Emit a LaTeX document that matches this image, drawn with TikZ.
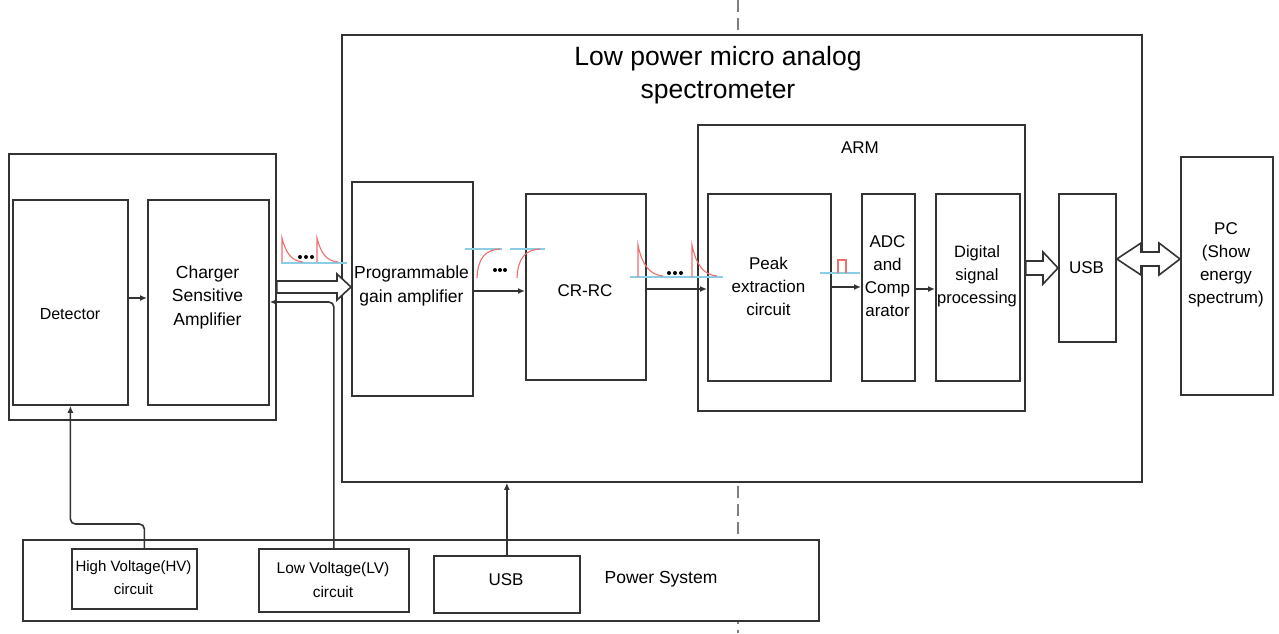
\documentclass[tikz,border=0pt]{standalone}
\usepackage{fontspec}
\setmainfont{Liberation Sans}
\usetikzlibrary{arrows.meta,calc}
\definecolor{ln}{RGB}{51,51,51}
\definecolor{pulse}{RGB}{240,110,110}
\definecolor{base}{RGB}{140,205,230}
\tikzset{
  box/.style={draw=ln, line width=1.8pt, fill=white, inner sep=0pt, anchor=north west},
  txt/.style={align=center, inner sep=0pt, font=\fontsize{17}{23}\selectfont},
  arr/.style={draw=ln, line width=1.6pt, -{Latex[length=7pt,width=6pt]}},
  fat/.style={draw=ln, line width=1.6pt, fill=white, line join=miter},
  pl/.style={pulse, line width=1.1pt},
  bl/.style={base, line width=1.1pt},
}
\begin{document}
\begin{tikzpicture}[x=1pt,y=-1pt]
\useasboundingbox (0,0) rectangle (1279,633);
% dashed divider
\draw[gray, line width=1.6pt, dash pattern=on 12pt off 6pt] (738,0) -- (738,633);
% left group
\node[box, minimum width=267pt, minimum height=266pt] (grp) at (8,153) {};
\node[box, minimum width=115pt, minimum height=205pt] (det) at (12,199) {};
\node[box, minimum width=121pt, minimum height=205pt] (csa) at (147,199) {};
\node[txt, font=\fontsize{16}{23}\selectfont] (detl) at (70,314) {Detector};
\node[txt, font=\fontsize{17.5}{23.5}\selectfont] (csal) at (207.5,297) {Charger\\Sensitive\\Amplifier};
% main box
\node[box, minimum width=800pt, minimum height=447pt] (main) at (341,34) {};
\node[txt, font=\fontsize{26.5}{33}\selectfont] (title) at (718,75) {Low power micro analog\\spectrometer};
\node[box, minimum width=121pt, minimum height=214pt] (pga) at (351,181) {};
\node[txt, font=\fontsize{17.5}{23.5}\selectfont] (pgal) at (411.5,286) {Programmable\\gain amplifier};
\node[box, minimum width=120pt, minimum height=186pt] (crrc) at (525,193) {};
\node[txt] (crrcl) at (585,291) {CR-RC};
\node[box, minimum width=327pt, minimum height=286pt] (arm) at (697,124) {};
\node[txt] (arml) at (860,148) {ARM};
\node[box, minimum width=123pt, minimum height=187pt] (peak) at (707,193) {};
\node[txt] (peakl) at (768.5,286) {Peak\\extraction\\circuit};
\node[box, minimum width=53pt, minimum height=187pt] (adc) at (861,193) {};
\node[txt] (adcl) at (887.5,276) {ADC\\and\\Comp\\arator};
\node[box, minimum width=84pt, minimum height=187pt] (dsp) at (935,193) {};
\node[txt, font=\fontsize{16.5}{23}\selectfont] (dspl) at (977,276) {Digital\\signal\\processing};
\node[box, minimum width=57pt, minimum height=148pt] (usb) at (1058,193) {};
\node[txt] (usbl) at (1086.5,268) {USB};
\node[box, minimum width=92pt, minimum height=238pt] (pc) at (1180,156) {};
\node[txt] (pcl) at (1226,265) {PC\\(Show\\energy\\spectrum)};
% power system
\node[box, minimum width=796pt, minimum height=81pt] (pow) at (22,539) {};
\node[box, minimum width=125pt, minimum height=60pt] (hv) at (71,548) {};
\node[txt, font=\fontsize{15}{23}\selectfont] (hvl) at (133.5,578) {High Voltage(HV)\\circuit};
\node[box, minimum width=150pt, minimum height=63pt] (lv) at (258,548) {};
\node[txt, font=\fontsize{15.5}{24}\selectfont] (lvl) at (333,580) {Low Voltage(LV)\\circuit};
\node[box, minimum width=146pt, minimum height=57pt] (usbp) at (433,555) {};
\node[txt] (usbpl) at (506,580) {USB};
\node[txt, font=\fontsize{17.5}{23}\selectfont] (powl) at (661,579) {Power System};
% connectors
\draw[arr] (det.east |- 0,298) -- (csa.west |- 0,298);
\draw[arr] (pga.east |- 0,291) -- (crrc.west |- 0,291);
\draw[arr] (crrc.east |- 0,289) -- (peak.west |- 0,289);
\draw[arr] (peak.east |- 0,287) -- (adc.west |- 0,287);
\draw[arr] (adc.east |- 0,289) -- (dsp.west |- 0,289);
\draw[arr, rounded corners=5pt] ([xshift=10pt]hv.north) -- ++(0,-24) -| (det.south);
\draw[arr, rounded corners=5pt] (lv.north) |- (csa.east |- 0,302);
\draw[arr] (usbp.north) -- (usbp.north |- main.south);
% hollow arrows
\draw[fat] (grp.east |- 0,281) -- (337,281) -- (337,274) -- (pga.west |- 0,287) -- (337,300) -- (337,293) -- (grp.east |- 0,293) -- cycle;
\draw[fat] (arm.east |- 0,261) -- (1043,261) -- (1043,252) -- (usb.west |- 0,268) -- (1043,284) -- (1043,275) -- (arm.east |- 0,275) -- cycle;
\draw[fat] (usb.east |- 0,259) -- (1141,243) -- (1141,252) -- (1159,252) -- (1159,243) -- (pc.west |- 0,259) -- (1159,275) -- (1159,266) -- (1141,266) -- (1141,275) -- cycle;
% pulse glyphs
\draw[bl] (281,263) -- (347,263);
\draw[pl] (282,262) -- (282,238) .. controls (286,254) and (292,261) .. (303,262);
\draw[pl] (317,262) -- (317,238) .. controls (321,254) and (327,261) .. (338,262);
\foreach \x in {300,306,312} \fill (\x,257) circle (2pt);
\draw[bl] (465,249) -- (502,249) (510,249) -- (545,249);
\draw[pl] (477,278) .. controls (478,258) and (485,250) .. (500,249);
\draw[pl] (517,278) .. controls (518,258) and (525,250) .. (540,249);
\foreach \x in {495,500,505} \fill (\x,270) circle (2pt);
\draw[bl] (630,277) -- (723,277);
\draw[pl] (638,277) -- (638,245) .. controls (642,265) and (650,275) .. (663,276);
\draw[pl] (692,277) -- (692,245) .. controls (696,265) and (704,275) .. (717,276);
\foreach \x in {669,675,681} \fill (\x,273) circle (2pt);
\draw[bl] (820,273) -- (860,273);
\draw[pl] (838,273) -- (838,260) -- (846,260) -- (846,273);
\end{tikzpicture}
\end{document}
